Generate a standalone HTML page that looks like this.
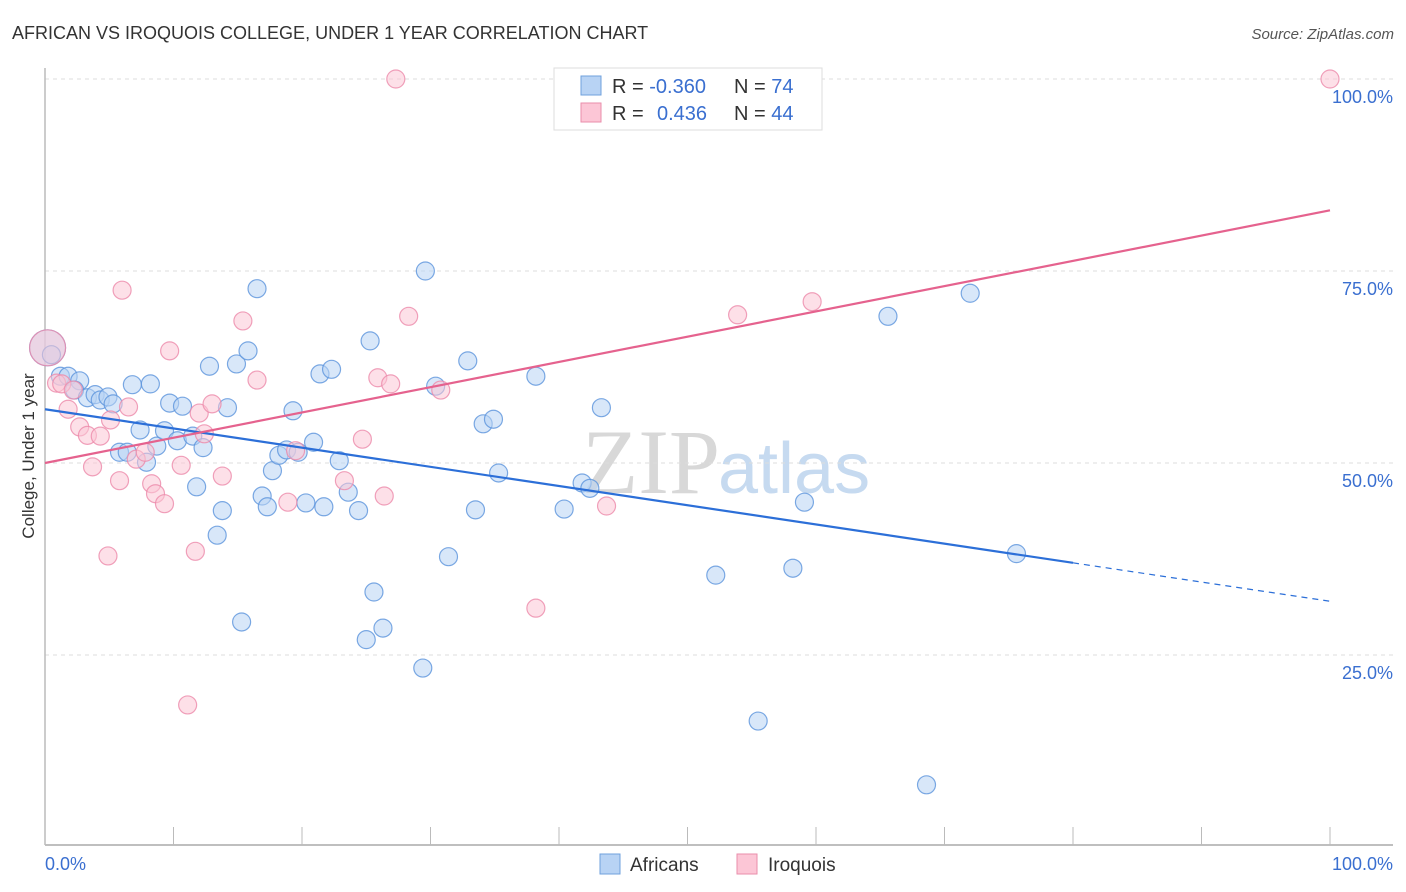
<!DOCTYPE html>
<html><head><meta charset="utf-8"><style>
body{margin:0;background:#fff;font-family:"Liberation Sans",sans-serif}
#wrap{position:relative;width:1406px;height:892px;overflow:hidden}
</style></head><body>
<div id="wrap">
<svg id="svg" width="1406" height="892" xmlns="http://www.w3.org/2000/svg">
<text x="12" y="39" font-size="18" fill="#333">AFRICAN VS IROQUOIS COLLEGE, UNDER 1 YEAR CORRELATION CHART</text>
<text x="1394" y="39" font-size="15" fill="#555" font-style="italic" text-anchor="end">Source: ZipAtlas.com</text>
<text x="34" y="456" font-size="17" fill="#333" text-anchor="middle" transform="rotate(-90 34 456)">College, Under 1 year</text>
<text x="720" y="493" font-size="92" fill="#d8d8d8" font-family="Liberation Serif,serif" text-anchor="end">ZIP</text>
<text x="718" y="493" font-size="72" fill="#c6daf0" text-anchor="start">atlas</text>
<g id="grid"></g><g id="axes"></g><g id="pts"></g><g id="lines"></g>
<g>
<rect x="554" y="68" width="268" height="62" fill="#fff" stroke="#ddd"/>
<rect x="581" y="76" width="20" height="19" fill="#b8d3f4" stroke="#6fa0dc"/>
<rect x="581" y="103" width="20" height="19" fill="#fcc6d6" stroke="#ea8eab"/>
<text x="612" y="93" font-size="20" fill="#333">R = <tspan fill="#3a6fd0">-0.360</tspan></text>
<text x="734" y="93" font-size="20" fill="#333">N = <tspan fill="#3a6fd0">74</tspan></text>
<text x="612" y="120" font-size="20" fill="#333">R = <tspan fill="#3a6fd0" x="657">0.436</tspan></text>
<text x="734" y="120" font-size="20" fill="#333">N = <tspan fill="#3a6fd0">44</tspan></text>
</g>
<g>
<rect x="600" y="854" width="20" height="20" fill="#b8d3f4" stroke="#6fa0dc"/>
<text x="630" y="871" font-size="19" fill="#333">Africans</text>
<rect x="737" y="854" width="20" height="20" fill="#fcc6d6" stroke="#ea8eab"/>
<text x="768" y="871" font-size="19" fill="#333">Iroquois</text>
</g>
<text x="45" y="870" font-size="18" fill="#3a6fd0">0.0%</text>
<text x="1393" y="870" font-size="18" fill="#3a6fd0" text-anchor="end">100.0%</text>
</svg>
</div>
<script>
const africansX=[0.2,0.5,1.2,1.8,2.7,2.3,3.3,3.9,4.3,4.9,5.3,5.8,6.4,6.8,7.4,7.9,8.2,8.7,9.3,9.7,10.3,10.7,11.5,11.8,12.3,12.8,13.4,13.8,14.2,14.9,15.3,15.8,16.5,16.9,17.3,17.7,18.2,18.8,19.3,19.7,20.3,20.9,21.4,21.7,22.3,22.9,23.6,24.4,25.3,25.6,25.0,26.3,29.4,29.6,30.4,31.4,32.9,33.5,34.1,34.9,35.3,38.2,40.4,41.8,42.4,43.3,52.2,55.5,58.2,59.1,65.6,68.6,72.0,75.6];
const africansY=[65.0,64.1,61.3,61.3,60.7,59.5,58.5,58.9,58.2,58.6,57.7,51.4,51.4,60.2,54.3,50.1,60.3,52.2,54.2,57.8,52.9,57.4,53.5,46.9,52.0,62.6,40.6,43.8,57.2,62.9,29.3,64.6,72.7,45.7,44.3,49.0,51.0,51.7,56.8,51.4,44.8,52.7,61.6,44.3,62.2,50.3,46.2,43.8,65.9,33.2,27.0,28.5,23.3,75.0,60.0,37.8,63.3,43.9,55.1,55.7,48.7,61.3,44.0,47.4,46.7,57.2,35.4,16.4,36.3,44.9,69.1,8.1,72.1,38.2];
const iroquoisX=[0.2,0.9,1.3,1.8,2.2,2.7,3.3,3.7,4.3,4.9,5.1,5.8,6.0,6.5,7.1,7.8,8.3,8.6,9.3,9.7,10.6,11.1,11.7,12.0,12.4,13.0,13.8,15.4,16.5,18.9,19.5,23.3,24.7,25.9,26.4,26.9,27.3,28.3,30.8,38.2,43.7,53.9,59.7,100];
const iroquoisY=[65.0,60.4,60.3,57.0,59.5,54.7,53.6,49.5,53.5,37.9,55.6,47.7,72.5,57.3,50.5,51.4,47.3,46.0,44.7,64.6,49.7,18.5,38.5,56.5,53.8,57.7,48.3,68.5,60.8,44.9,51.6,47.7,53.1,61.1,45.7,60.3,100,69.1,59.5,31.1,44.4,69.3,71.0,100];
const africansTrend=[57.0,37.0,32.0]; // y at x=0, 80 (solid end), 100
const iroquoisTrend=[50.0,82.9];      // y at x=0, 100
const yTicks=[25,50,75,100];
const xTicks=[10,20,30,40,50,60,70,80,90,100];

const NS="http://www.w3.org/2000/svg";
const X=v=>45+v*12.85, Y=v=>847-v*7.68;
function mk(tag,attrs,parent){const e=document.createElementNS(NS,tag);for(const k in attrs)e.setAttribute(k,attrs[k]);document.getElementById(parent).appendChild(e);return e;}
yTicks.forEach(t=>{
  const l=mk('line',{x1:45,x2:1393,y1:Y(t),y2:Y(t),stroke:'#ddd','stroke-dasharray':'4,4'},'grid');
  
  
  const tx=mk('text',{x:1393,y:Y(t)+24,'font-size':18,fill:'#3a6fd0','text-anchor':'end'},'grid');
  tx.textContent=t.toFixed(1)+'%';
  
  
});
const ax=mk('line',{x1:45,x2:1393,y1:845,y2:845,stroke:'#aaa','stroke-width':1.5},'axes');


const ay=mk('line',{x1:45,x2:45,y1:68,y2:845,stroke:'#bbb','stroke-width':1.5},'axes');


xTicks.forEach(t=>{
  const l=mk('line',{x1:X(t),x2:X(t),y1:827,y2:845,stroke:'#bbb'},'axes');
  
  
});
function dots(xs,ys,fill,stroke,name){
  xs.forEach((x,i)=>{
    const big=i===0;
    const c=mk('circle',{cx:X(x),cy:Y(ys[i]),r:big?18:9,fill:fill,'fill-opacity':0.55,stroke:stroke,'stroke-opacity':0.8,'stroke-width':1.2},'pts');
    
    
  });
}
dots(africansX,africansY,'#b8d3f4','#5b93dc','africans-point');
dots(iroquoisX,iroquoisY,'#fcc6d6','#ec8aaa','iroquois-point');
const b1=mk('line',{x1:X(0),y1:Y(africansTrend[0]),x2:X(80),y2:Y(africansTrend[1]),stroke:'#2c6fd8','stroke-width':2.2},'lines');


const b2=mk('line',{x1:X(80),y1:Y(africansTrend[1]),x2:X(100),y2:Y(africansTrend[2]),stroke:'#2c6fd8','stroke-width':1.2,'stroke-dasharray':'6,5'},'lines');


const p1=mk('line',{x1:X(0),y1:Y(iroquoisTrend[0]),x2:X(100),y2:Y(iroquoisTrend[1]),stroke:'#e5628e','stroke-width':2.2},'lines');


</script>
</body></html>
